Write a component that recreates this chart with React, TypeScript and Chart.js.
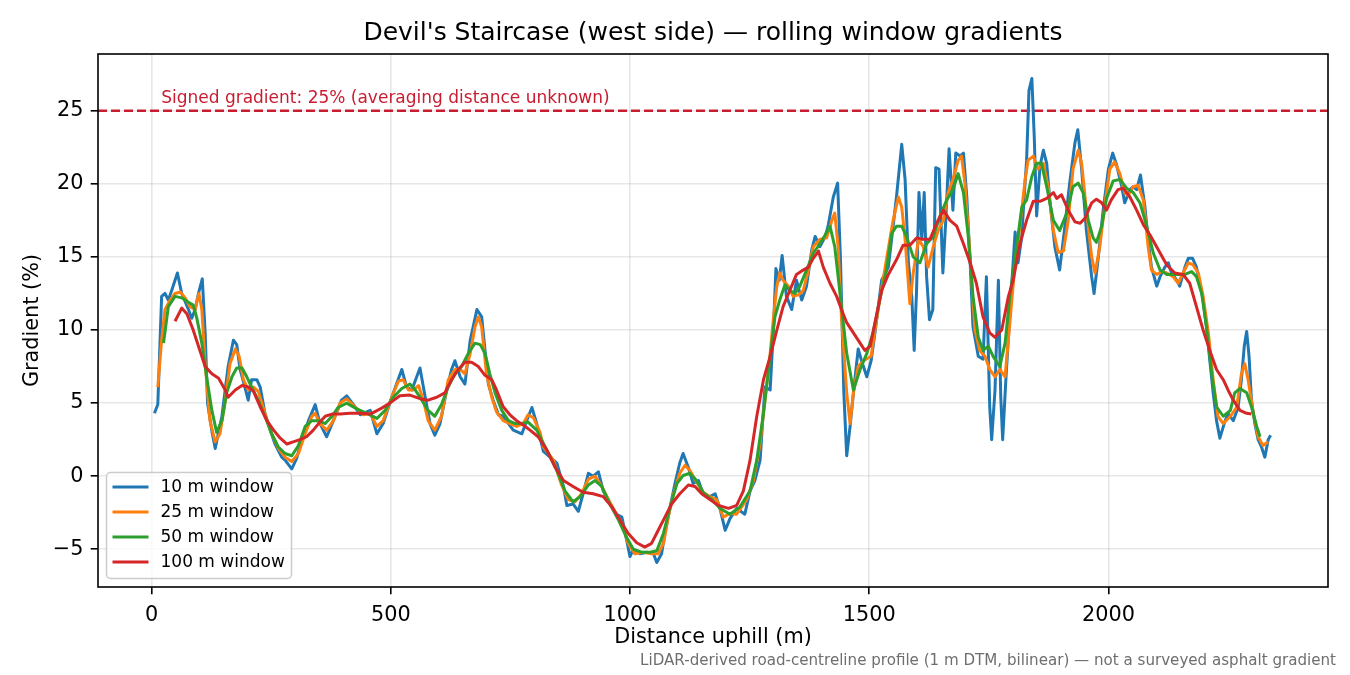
import { Chart, ChartConfiguration, Plugin, registerables } from "chart.js";
import { useEffect, useRef } from "react";

Chart.register(...registerables);

const FONT = "'DejaVu Sans', 'Liberation Sans', sans-serif";

// 10 m window (distance m / gradient %)
const dist10 = [
  6, 13, 21, 28, 35, 42, 54, 63, 77, 84, 91, 98, 106, 112, 117, 126, 133, 147, 160, 171,
  178, 185, 195, 202, 209, 220, 227, 237, 248, 258, 272, 279, 293, 303, 314, 328, 342, 352, 366, 380,
  397, 408, 422, 436, 457, 471, 484, 502, 512, 523, 533, 544, 561, 572, 582, 592, 603, 617, 627, 634,
  645, 655, 666, 680, 690, 697, 704, 714, 725, 735, 746, 756, 774, 784, 795, 805, 819, 833, 847, 861,
  868, 881, 892, 902, 913, 923, 934, 944, 958, 972, 983, 990, 1000, 1007, 1021, 1035, 1049, 1056, 1066, 1073,
  1084, 1094, 1104, 1111, 1122, 1132, 1143, 1153, 1167, 1178, 1188, 1199, 1209, 1223, 1240, 1251, 1261, 1272, 1282, 1293,
  1300, 1305, 1312, 1318, 1327, 1338, 1348, 1359, 1369, 1380, 1387, 1397, 1408, 1414, 1425, 1434, 1440, 1447, 1453, 1460,
  1467, 1477, 1484, 1495, 1504, 1512, 1526, 1540, 1550, 1557, 1568, 1575, 1582, 1589, 1594, 1599, 1604, 1610, 1615, 1620,
  1626, 1633, 1639, 1646, 1654, 1660, 1667, 1675, 1681, 1690, 1697, 1704, 1711, 1717, 1728, 1738, 1745, 1752, 1756, 1763,
  1770, 1775, 1779, 1786, 1794, 1805, 1811, 1819, 1823, 1829, 1834, 1840, 1845, 1850, 1857, 1864, 1871, 1878, 1888, 1898,
  1908, 1919, 1930, 1936, 1944, 1954, 1965, 1970, 1979, 1989, 2000, 2009, 2017, 2028, 2034, 2045, 2052, 2059, 2067, 2076,
  2083, 2090, 2101, 2108, 2118, 2125, 2132, 2143, 2149, 2160, 2167, 2176, 2184, 2191, 2198, 2205, 2212, 2219, 2226, 2233,
  2242, 2250, 2261, 2271, 2278, 2284, 2289, 2294, 2299, 2306, 2313, 2320, 2327, 2334, 2339,
];
const grad10 = [
  4.3, 4.9, 12.3, 12.5, 12.05, 12.7, 13.9, 12.5, 11.4, 10.8, 11.4, 12.5, 13.5, 9.8, 5.0, 3.1, 1.9, 4.1, 7.5, 9.3,
  9.0, 7.3, 6.1, 5.2, 6.6, 6.6, 6.1, 4.3, 3.15, 2.2, 1.3, 1.1, 0.5, 1.2, 2.5, 3.8, 4.9, 3.6, 2.7, 3.8,
  5.2, 5.5, 4.9, 4.2, 4.5, 2.9, 3.6, 5.4, 6.3, 7.3, 6.1, 5.9, 7.4, 5.4, 3.6, 2.8, 3.6, 5.9, 7.3, 7.9,
  6.8, 6.3, 9.3, 11.4, 10.9, 8.6, 6.3, 5.2, 4.2, 4.1, 3.6, 3.15, 2.9, 3.8, 4.7, 3.6, 1.7, 1.3, 0.9, -0.7,
  -2.0, -1.9, -2.4, -1.2, 0.2, 0.0, 0.3, -1.0, -1.9, -2.6, -2.8, -3.9, -5.5, -5.0, -5.3, -5.2, -5.3, -5.9, -5.3, -3.9,
  -2.1, -0.5, 0.9, 1.55, 0.6, -0.5, -0.3, -1.2, -1.4, -1.2, -2.2, -3.7, -2.9, -2.2, -2.6, -1.0, -0.3, 1.1, 6.1, 5.9,
  10.2, 14.2, 13.4, 15.1, 12.3, 11.4, 13.4, 12.05, 13.0, 15.5, 16.4, 15.7, 16.4, 17.1, 19.1, 20.05, 14.8, 5.7, 1.4, 3.4,
  5.7, 8.7, 7.9, 6.8, 7.9, 9.8, 13.4, 14.3, 17.1, 19.1, 22.7, 20.3, 14.6, 12.3, 8.6, 12.7, 19.4, 16.2, 19.4, 13.65,
  10.7, 11.4, 21.1, 21.0, 13.9, 17.5, 22.4, 18.2, 22.1, 21.9, 22.1, 19.1, 14.6, 10.2, 8.2, 8.0, 13.65, 4.7, 2.5, 5.9,
  13.4, 5.4, 2.5, 6.8, 11.1, 16.7, 14.6, 16.4, 18.7, 21.6, 26.4, 27.2, 23.2, 17.8, 21.2, 22.3, 21.4, 18.7, 15.7, 14.1,
  16.8, 20.05, 22.8, 23.7, 21.0, 16.8, 13.65, 12.5, 15.0, 18.2, 21.0, 22.1, 21.3, 19.8, 18.7, 19.6, 19.8, 19.6, 20.6, 18.5,
  16.2, 14.3, 13.0, 13.65, 14.3, 14.6, 13.9, 13.4, 13.0, 14.3, 14.9, 14.9, 14.3, 13.2, 12.05, 10.2, 7.9, 5.7, 3.8, 2.6,
  3.6, 4.3, 3.8, 4.7, 6.6, 8.9, 9.9, 8.2, 5.2, 3.6, 2.5, 2.0, 1.3, 2.5, 2.8,
];

// 25 m window
const dist25 = [
  13, 21, 28, 39, 49, 60, 70, 80, 91, 99, 105, 112, 122, 133, 143, 154, 164, 175, 183, 192,
  202, 213, 223, 237, 251, 265, 279, 293, 307, 321, 335, 342, 352, 366, 380, 394, 408, 425, 443, 457,
  471, 484, 502, 516, 526, 537, 547, 558, 568, 578, 592, 606, 620, 634, 645, 655, 666, 676, 683, 690,
  700, 711, 721, 735, 749, 763, 777, 787, 798, 812, 819, 840, 857, 871, 885, 899, 913, 927, 941, 955,
  969, 983, 996, 1010, 1028, 1045, 1059, 1070, 1080, 1091, 1104, 1115, 1125, 1139, 1153, 1167, 1181, 1195, 1209, 1223,
  1244, 1258, 1272, 1282, 1293, 1300, 1307, 1313, 1320, 1331, 1341, 1352, 1362, 1373, 1383, 1397, 1411, 1422, 1428, 1435,
  1442, 1453, 1460, 1467, 1477, 1488, 1504, 1512, 1522, 1536, 1550, 1561, 1568, 1575, 1585, 1592, 1603, 1613, 1623, 1634,
  1644, 1655, 1665, 1675, 1686, 1693, 1700, 1711, 1721, 1731, 1742, 1752, 1763, 1773, 1784, 1794, 1805, 1815, 1826, 1832,
  1843, 1853, 1864, 1874, 1885, 1895, 1906, 1916, 1926, 1937, 1944, 1954, 1965, 1972, 1982, 1993, 2003, 2013, 2024, 2034,
  2041, 2052, 2062, 2073, 2083, 2090, 2101, 2111, 2122, 2135, 2146, 2156, 2167, 2177, 2188, 2198, 2209, 2219, 2229, 2240,
  2255, 2268, 2278, 2285, 2292, 2303, 2313, 2323, 2334,
];
const grad25 = [
  6.1, 9.3, 11.4, 12.05, 12.5, 12.6, 12.2, 11.6, 11.4, 12.5, 11.4, 7.7, 3.8, 2.35, 2.9, 5.2, 7.7, 8.7, 8.2, 6.6,
  5.9, 6.1, 5.8, 4.3, 2.9, 1.9, 1.3, 1.0, 1.55, 2.9, 4.1, 4.3, 3.6, 3.15, 3.8, 5.0, 5.3, 4.75, 4.2, 4.3,
  3.4, 3.8, 5.4, 6.5, 6.6, 5.9, 5.9, 6.2, 5.2, 3.8, 3.15, 4.1, 6.6, 7.3, 7.3, 7.0, 8.4, 10.2, 10.9, 10.2,
  7.0, 5.4, 4.4, 3.8, 3.6, 3.4, 3.6, 4.2, 4.0, 3.0, 2.0, 1.1, -0.6, -1.6, -1.75, -1.2, -0.2, 0.0, -0.7, -1.6,
  -2.45, -3.2, -4.6, -5.3, -5.2, -5.3, -5.3, -4.6, -2.8, -1.2, 0.2, 0.75, 0.4, -0.4, -1.1, -1.4, -1.6, -2.8, -2.55, -2.6,
  -1.6, -0.3, 2.2, 5.2, 8.4, 10.9, 13.0, 13.9, 13.4, 13.0, 12.3, 12.4, 12.7, 14.1, 15.7, 16.2, 16.3, 17.5, 18.0, 15.7,
  10.9, 5.7, 3.6, 5.7, 7.5, 7.9, 8.2, 10.0, 12.05, 14.8, 17.5, 19.1, 18.4, 16.2, 11.8, 13.9, 16.2, 15.7, 14.3, 15.7,
  16.8, 17.5, 19.4, 20.3, 21.6, 21.9, 20.05, 15.0, 10.0, 8.6, 8.2, 7.3, 6.8, 7.3, 6.8, 10.5, 14.6, 17.1, 20.3, 21.6,
  21.9, 21.0, 21.4, 19.8, 16.8, 15.3, 15.4, 17.5, 21.0, 22.3, 21.4, 18.2, 15.0, 13.9, 15.7, 18.7, 21.0, 21.5, 20.7, 19.4,
  19.2, 19.8, 19.9, 18.9, 15.7, 14.1, 13.8, 14.0, 13.9, 13.65, 13.2, 13.9, 14.6, 14.45, 13.9, 12.3, 9.8, 6.6, 4.1, 3.6,
  4.1, 4.7, 7.0, 7.7, 6.6, 4.3, 2.7, 2.1, 2.35,
];

// 50 m window
const dist50 = [
  25, 35, 49, 63, 77, 87, 94, 105, 115, 126, 136, 147, 157, 168, 178, 189, 199, 209, 223, 237,
  251, 265, 279, 293, 307, 321, 335, 349, 363, 377, 390, 408, 429, 450, 471, 488, 505, 523, 540, 551,
  565, 578, 592, 606, 620, 634, 648, 662, 676, 687, 697, 707, 718, 732, 746, 760, 774, 787, 805, 826,
  847, 864, 881, 896, 913, 927, 941, 958, 976, 993, 1007, 1024, 1042, 1056, 1070, 1084, 1098, 1111, 1125, 1139,
  1153, 1171, 1188, 1209, 1230, 1251, 1265, 1279, 1293, 1303, 1313, 1324, 1334, 1345, 1355, 1369, 1383, 1397, 1408, 1418,
  1428, 1439, 1453, 1467, 1481, 1495, 1508, 1522, 1536, 1547, 1557, 1568, 1578, 1592, 1606, 1620, 1634, 1648, 1662, 1675,
  1686, 1697, 1707, 1717, 1728, 1738, 1749, 1759, 1773, 1784, 1794, 1808, 1819, 1829, 1840, 1850, 1860, 1871, 1885, 1898,
  1913, 1926, 1937, 1947, 1958, 1968, 1975, 1986, 1996, 2010, 2024, 2038, 2052, 2066, 2080, 2094, 2108, 2122, 2143, 2160,
  2174, 2184, 2195, 2205, 2216, 2226, 2240, 2255, 2264, 2275, 2289, 2299, 2310, 2317,
];
const grad50 = [
  9.1, 11.6, 12.3, 12.2, 11.9, 11.7, 10.9, 9.1, 6.8, 4.5, 3.0, 3.8, 5.7, 6.8, 7.4, 7.4, 6.8, 6.1, 5.2, 4.1,
  2.9, 2.0, 1.55, 1.4, 2.1, 3.4, 3.8, 3.8, 3.6, 4.1, 4.7, 5.0, 4.6, 4.3, 3.95, 4.5, 5.4, 6.0, 6.3, 5.9,
  5.2, 4.5, 4.1, 4.9, 6.1, 7.0, 7.5, 8.4, 9.1, 9.0, 8.4, 7.0, 5.7, 4.5, 3.8, 3.6, 3.6, 3.7, 3.15, 1.8,
  0.4, -1.0, -1.75, -1.4, -0.6, -0.3, -0.7, -1.9, -3.0, -4.2, -5.0, -5.2, -5.2, -5.1, -3.9, -2.1, -0.5, 0.05, 0.2, -0.3,
  -1.1, -1.6, -2.2, -2.6, -2.1, -1.0, 1.1, 4.3, 8.2, 10.9, 12.05, 13.1, 12.7, 12.5, 13.0, 14.1, 15.25, 15.9, 16.5, 17.1,
  15.7, 12.5, 8.4, 5.9, 7.3, 8.4, 9.8, 12.05, 14.1, 16.6, 17.1, 17.1, 16.4, 15.0, 14.6, 15.9, 16.4, 17.8, 18.9, 19.6,
  20.7, 19.4, 16.4, 12.3, 9.5, 8.6, 8.9, 8.2, 7.5, 9.1, 12.3, 15.7, 18.4, 18.9, 20.5, 21.4, 21.4, 19.8, 17.5, 16.8,
  18.0, 19.8, 20.05, 19.4, 17.5, 16.3, 16.0, 17.1, 19.0, 20.2, 20.3, 19.7, 19.4, 18.7, 17.1, 15.25, 14.1, 13.8, 13.8, 13.8,
  14.0, 13.65, 12.5, 10.2, 7.0, 4.75, 4.1, 4.5, 5.7, 6.0, 5.7, 4.75, 3.4, 2.7,
];

// 100 m window
const dist100 = [
  49, 63, 74, 87, 101, 112, 126, 140, 154, 160, 175, 189, 202, 213, 227, 241, 255, 269, 283, 296,
  310, 324, 338, 349, 363, 377, 394, 415, 436, 457, 478, 498, 519, 540, 561, 578, 596, 613, 627, 641,
  655, 669, 683, 697, 711, 721, 735, 749, 763, 777, 791, 808, 826, 843, 861, 881, 902, 923, 944, 962,
  979, 996, 1014, 1031, 1045, 1059, 1073, 1087, 1104, 1122, 1136, 1150, 1167, 1185, 1206, 1223, 1237, 1251, 1265, 1279,
  1293, 1307, 1320, 1334, 1348, 1362, 1373, 1383, 1394, 1404, 1418, 1432, 1442, 1453, 1467, 1481, 1491, 1502, 1512, 1526,
  1540, 1557, 1571, 1585, 1599, 1613, 1627, 1641, 1655, 1669, 1683, 1697, 1711, 1724, 1738, 1752, 1763, 1777, 1791, 1801,
  1815, 1829, 1843, 1857, 1871, 1885, 1892, 1902, 1916, 1930, 1941, 1951, 1965, 1975, 1986, 1996, 2006, 2020, 2031, 2045,
  2059, 2073, 2087, 2104, 2122, 2139, 2156, 2170, 2184, 2198, 2212, 2226, 2240, 2250, 2261, 2275, 2289, 2299,
];
const grad100 = [
  10.6, 11.5, 11.1, 10.0, 8.6, 7.5, 7.0, 6.7, 5.9, 5.4, 5.9, 6.2, 6.1, 5.8, 4.75, 3.8, 3.15, 2.6, 2.2, 2.35,
  2.5, 2.7, 3.15, 3.6, 4.1, 4.25, 4.25, 4.3, 4.3, 4.25, 4.6, 5.0, 5.5, 5.55, 5.3, 5.2, 5.4, 5.7, 6.6, 7.3,
  7.8, 7.8, 7.5, 6.9, 6.6, 5.9, 4.75, 4.2, 3.8, 3.5, 3.15, 2.7, 1.8, 0.65, -0.3, -0.7, -1.1, -1.2, -1.4, -2.1,
  -3.0, -3.9, -4.55, -4.85, -4.6, -3.7, -2.8, -1.9, -1.2, -0.6, -0.7, -1.2, -1.6, -2.0, -2.2, -2.0, -1.0, 1.1, 4.1, 6.6,
  8.2, 10.0, 11.6, 12.7, 13.8, 14.1, 14.3, 14.9, 15.4, 14.3, 13.2, 12.3, 11.4, 10.5, 9.8, 9.1, 8.6, 8.9, 10.5, 12.7,
  13.8, 14.8, 15.8, 15.8, 16.3, 16.2, 16.2, 17.3, 18.2, 17.5, 17.1, 15.9, 14.6, 13.2, 10.9, 9.8, 9.5, 10.0, 12.3, 13.4,
  15.9, 17.5, 18.8, 18.8, 19.0, 19.4, 19.0, 19.25, 18.2, 17.4, 17.3, 17.65, 18.7, 18.95, 18.7, 18.2, 18.9, 19.6, 19.7, 19.1,
  18.2, 17.2, 16.5, 15.5, 14.45, 13.9, 13.8, 13.2, 11.6, 10.0, 8.6, 7.3, 6.6, 5.9, 5.2, 4.5, 4.3, 4.25,
];

const seriesLabels = ["10 m window", "25 m window", "50 m window", "100 m window"];
const seriesColors = ["#1f77b4", "#ff7f0e", "#2ca02c", "#d62728"];
const seriesDist = [dist10, dist25, dist50, dist100];
const seriesGrad = [grad10, grad25, grad50, grad100];

const xTicks = [0, 500, 1000, 1500, 2000];
const yTicks = [-5, 0, 5, 10, 15, 20, 25];
const xRange = [-112, 2459];
const yRange = [-7.58, 28.88];

const SIGNED_GRADIENT = 25;
const signColor = "#c81d31";
const signLabel = "Signed gradient: 25% (averaging distance unknown)";
const signLabelAt = { x: 20, y: 25.55 };

const titleText = "Devil's Staircase (west side) \u2014 rolling window gradients";
const xLabel = "Distance uphill (m)";
const yLabel = "Gradient (%)";
const footnote =
  "LiDAR-derived road-centreline profile (1 m DTM, bilinear) \u2014 not a surveyed asphalt gradient";

const fmtTick = (v: number | string) => {
  const n = Number(v);
  return n < 0 ? "\u2212" + Math.abs(n) : String(n);
};

// dashed reference line, its label, the axes frame, the legend box and the footnote
const overlay: Plugin<"line"> = {
  id: "overlay",
  beforeDraw(chart) {
    const ctx = chart.ctx;
    ctx.save();
    ctx.fillStyle = "#ffffff";
    ctx.fillRect(0, 0, chart.width, chart.height);
    ctx.restore();
  },
  beforeDatasetsDraw(chart) {
    const { ctx, chartArea } = chart;
    const y = chart.scales.y.getPixelForValue(SIGNED_GRADIENT);
    ctx.save();
    ctx.strokeStyle = signColor;
    ctx.lineWidth = 2.4;
    ctx.setLineDash([9, 4]);
    ctx.beginPath();
    ctx.moveTo(chartArea.left, y);
    ctx.lineTo(chartArea.right, y);
    ctx.stroke();
    ctx.restore();
  },
  afterDatasetsDraw(chart) {
    const { ctx, chartArea } = chart;
    ctx.save();

    // label for the reference line
    ctx.fillStyle = signColor;
    ctx.font = `17px ${FONT}`;
    ctx.textAlign = "left";
    ctx.textBaseline = "alphabetic";
    ctx.fillText(
      signLabel,
      chart.scales.x.getPixelForValue(signLabelAt.x),
      chart.scales.y.getPixelForValue(signLabelAt.y)
    );

    // frame
    ctx.strokeStyle = "#000000";
    ctx.lineWidth = 1.6;
    ctx.strokeRect(
      chartArea.left,
      chartArea.top,
      chartArea.right - chartArea.left,
      chartArea.bottom - chartArea.top
    );

    // legend, lower left
    const lx = chartArea.left + 8.5;
    const ly = chartArea.bottom - 8.5 - 106;
    ctx.beginPath();
    ctx.roundRect(lx, ly, 185, 106, 4);
    ctx.fillStyle = "rgba(255,255,255,0.8)";
    ctx.fill();
    ctx.strokeStyle = "#cccccc";
    ctx.lineWidth = 1.5;
    ctx.stroke();

    ctx.font = `17px ${FONT}`;
    ctx.textBaseline = "middle";
    chart.data.datasets.forEach((ds, i) => {
      const rowY = ly + 14.5 + i * 25;
      ctx.strokeStyle = ds.borderColor as string;
      ctx.lineWidth = 3;
      ctx.beginPath();
      ctx.moveTo(lx + 6, rowY);
      ctx.lineTo(lx + 42, rowY);
      ctx.stroke();
      ctx.fillStyle = "#000000";
      ctx.fillText(ds.label ?? "", lx + 54, rowY + 1);
    });
    ctx.restore();
  },
  afterDraw(chart) {
    const ctx = chart.ctx;
    ctx.save();
    ctx.fillStyle = "#6e6e6e";
    ctx.font = `15.1px ${FONT}`;
    ctx.textAlign = "right";
    ctx.textBaseline = "alphabetic";
    ctx.fillText(footnote, chart.width - 14, chart.height - 10);
    ctx.restore();
  },
};

const App: React.FC = () => {
  const canvasRef = useRef<HTMLCanvasElement | null>(null);
  const chartRef = useRef<Chart | null>(null);

  useEffect(() => {
    document.body.style.margin = "0";

    const datasets = seriesLabels.map((label, i) => ({
      label,
      data: seriesDist[i].map((x, k) => ({ x, y: seriesGrad[i][k] })),
      borderColor: seriesColors[i],
      backgroundColor: seriesColors[i],
      borderWidth: 3,
      pointRadius: 0,
      tension: 0,
      borderJoinStyle: "round" as const,
      order: seriesLabels.length - i, // later series on top, as in the source
    }));

    const tickFont = { family: FONT, size: 20.8, lineHeight: 1.3 };
    const labelFont = { family: FONT, size: 20.8, lineHeight: 1.2 };

    const config: ChartConfiguration<"line"> = {
      type: "line",
      data: { datasets },
      options: {
        responsive: false,
        animation: false,
        events: [],
        layout: { padding: { left: 8, right: 22, top: 0, bottom: 0 } },
        scales: {
          x: {
            type: "linear",
            min: xRange[0],
            max: xRange[1],
            afterBuildTicks: (s) => {
              s.ticks = xTicks.map((value) => ({ value }));
            },
            afterFit: (s) => {
              s.height = 88;
            },
            grid: {
              color: "rgba(176,176,176,0.3)",
              lineWidth: 1.6,
              tickColor: "#000000",
              tickWidth: 1.6,
              tickLength: 7.3,
            },
            border: { display: false },
            ticks: {
              font: tickFont,
              color: "#000000",
              padding: 7.3,
              maxRotation: 0,
              autoSkip: false,
              callback: (v) => fmtTick(v),
            },
            title: {
              display: true,
              text: xLabel,
              color: "#000000",
              font: labelFont,
              padding: { top: 0, bottom: 24.5 },
            },
          },
          y: {
            type: "linear",
            min: yRange[0],
            max: yRange[1],
            afterBuildTicks: (s) => {
              s.ticks = yTicks.map((value) => ({ value }));
            },
            afterFit: (s) => {
              s.width = 90;
            },
            grid: {
              color: "rgba(176,176,176,0.3)",
              lineWidth: 1.6,
              tickColor: "#000000",
              tickWidth: 1.6,
              tickLength: 7.3,
            },
            border: { display: false },
            ticks: {
              font: { family: FONT, size: 20.8, lineHeight: 1.2 },
              color: "#000000",
              padding: 7.3,
              autoSkip: false,
              callback: (v) => fmtTick(v),
            },
            title: {
              display: true,
              text: yLabel,
              color: "#000000",
              font: labelFont,
              padding: { top: 12.5, bottom: 0 },
            },
          },
        },
        plugins: {
          legend: { display: false },
          tooltip: { enabled: false },
          title: {
            display: true,
            fullSize: false,
            text: titleText,
            color: "#000000",
            font: { family: FONT, size: 25, weight: "normal", lineHeight: 1.2 },
            padding: { top: 18, bottom: 6 },
          },
        },
      },
      plugins: [overlay],
    };

    if (chartRef.current) {
      chartRef.current.destroy();
    }
    if (canvasRef.current) {
      chartRef.current = new Chart(canvasRef.current, config);
    }

    return () => {
      if (chartRef.current) {
        chartRef.current.destroy();
        chartRef.current = null;
      }
    };
  }, []);

  return (
    <div style={{ width: 1350, height: 675 }}>
      <canvas ref={canvasRef} width={1350} height={675} style={{ width: 1350, height: 675 }} />
    </div>
  );
};

export default App;
